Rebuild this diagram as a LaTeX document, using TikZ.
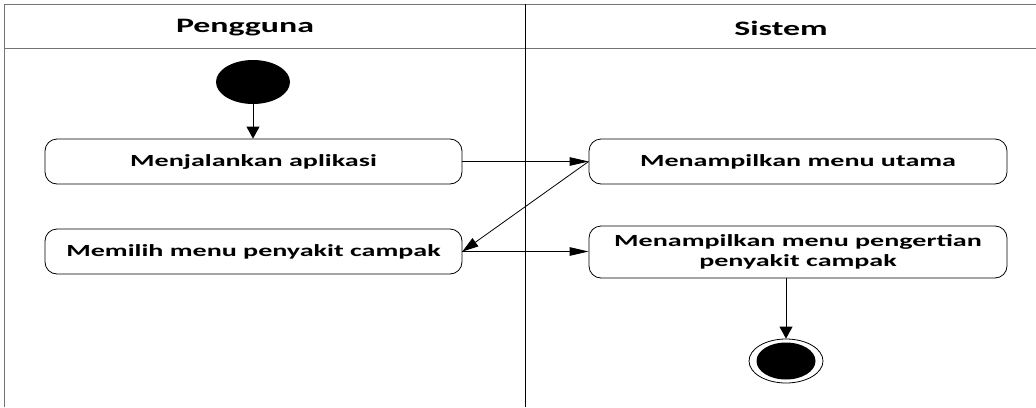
\documentclass[tikz,border=0pt]{standalone}
\usepackage{fontspec}
\setmainfont{Carlito}[FakeStretch=1.65]
\usetikzlibrary{arrows.meta,shapes.geometric}
\begin{document}
\begin{tikzpicture}[x=1pt,y=-1pt,
  lane/.style={draw=black!55, line width=1pt},
  divider/.style={draw=black, line width=0.9pt},
  action/.style={draw=black, line width=0.8pt, rounded corners=12pt,
    align=center, font=\bfseries\fontsize{17}{20}\selectfont, inner sep=0pt},
  flowv/.style={draw=black, line width=0.8pt, -{Triangle[length=12pt,width=13pt]}},
  flowh/.style={draw=black, line width=0.8pt, -{Triangle[length=19pt,width=8.5pt]}},
  flowd/.style={draw=black, line width=0.8pt, -{Triangle[length=16pt,width=10pt]}},
  startnode/.style={ellipse, fill=black, minimum width=74pt, minimum height=44pt, inner sep=0pt},
  endouter/.style={ellipse, draw=black, line width=0.8pt, minimum width=74pt, minimum height=44pt, inner sep=0pt},
  endinner/.style={ellipse, fill=black, minimum width=59pt, minimum height=37pt, inner sep=0pt},
  header/.style={font=\bfseries\fontsize{20.5}{24}\selectfont}
]
\useasboundingbox (0,0) rectangle (1036,407);

% swimlane frame
\draw[lane] (4,407) -- (4,4) -- (1036,4);
\draw[lane] (4,48) -- (1036,48);
\draw[divider] (525,4) -- (525,407);

% lane titles
\node[header] (hUser) at (245,28) {Pengguna};
\node[header] (hSys) at (781,28) {Sistem};

% initial state
\node[startnode] (start) at (253,82) {};

% actions
\node[action, minimum width=417pt, minimum height=45pt] (run) at (253.5,161.5) {Menjalankan aplikasi};
\node[action, minimum width=417pt, minimum height=45pt] (pick) at (253.5,251.5) {Memilih menu penyakit campak};
\node[action, minimum width=418pt, minimum height=45pt] (mainmenu) at (798,161.5) {Menampilkan menu utama};
\node[action, minimum width=418pt, minimum height=52pt] (info) at (798,252) {Menampilkan menu pengertian\\penyakit campak};

% final state
\node[endouter] (final) at (786,361) {};
\node[endinner] (finalcore) at (final.center) {};

% transitions
\draw[flowv] (start.south) -- (start.south |- run.north);
\draw[flowh] (run.east) -- (mainmenu.west);
\draw[flowd] (mainmenu.west) -- (pick.east);
\draw[flowh] (pick.east) -- (pick.east -| info.west);
\draw[flowv] (info.south -| final.north) -- (final.north);
\end{tikzpicture}
\end{document}
